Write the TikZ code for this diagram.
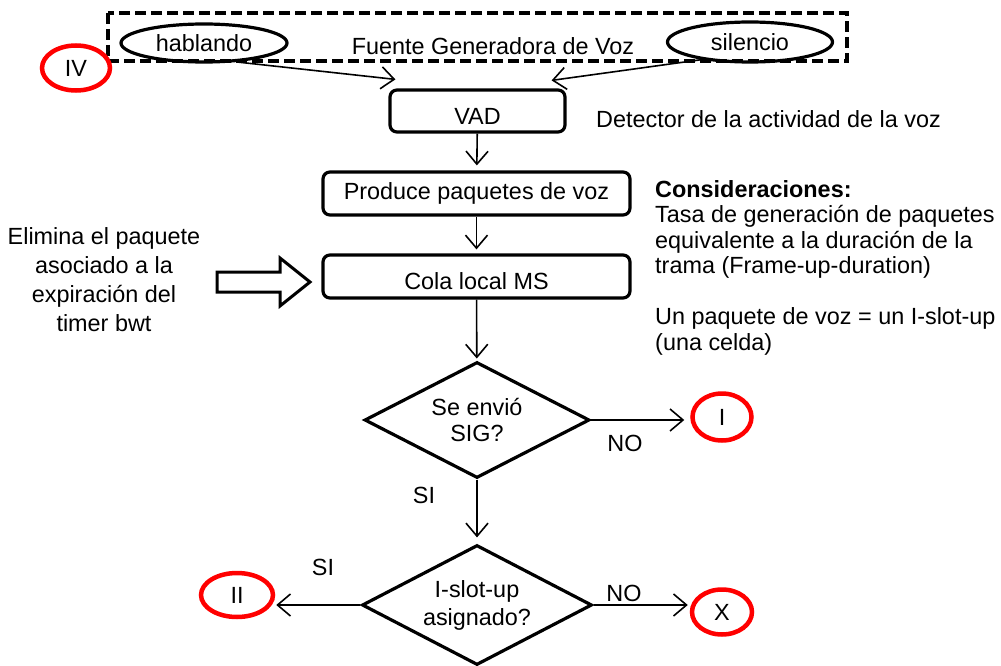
\documentclass[tikz,border=0pt]{standalone}
\usepackage{fontspec}
\setmainfont{Liberation Sans}
\usetikzlibrary{arrows.meta,shapes.geometric,calc}
\begin{document}
\begin{tikzpicture}[x=1pt,y=-1pt,
  every node/.style={font=\fontsize{23.4}{27}\selectfont, inner sep=0pt},
  box/.style={draw, rounded corners=7pt, line width=3.2pt, text height=16pt, text depth=5pt},
  lowtext/.style={text height=26.5pt, text depth=0pt},
  oval/.style={draw, ellipse, line width=3.2pt, text height=16.5pt, text depth=0pt},
  redoval/.style={draw=red, ellipse, line width=4.5pt, text height=16.5pt, text depth=0pt},
  decision/.style={draw, diamond, aspect=1.9, line width=3.2pt, align=center},
  lbl/.style={text height=16.5pt, text depth=0pt},
  arr/.style={line width=1.6pt, -{Straight Barb[length=13pt,width=22pt]}},
]
\useasboundingbox (0,0) rectangle (1001,666);
% source frame
\draw[line width=3.5pt, dash pattern=on 11pt off 5pt] (108,13) rectangle (847,61);
\node[oval, minimum width=166pt, minimum height=38pt] (hab) at (204,43) {hablando};
\node[oval, minimum width=165pt, minimum height=40pt] (sil) at (750,42) {silencio};
\node[anchor=base] (fuente) at (493,55) {Fuente Generadora de Voz};
\node[redoval, minimum width=68pt, minimum height=45pt] (iv) at (76,68) {IV};
% boxes
\node[box, lowtext, minimum width=175pt, minimum height=42pt] (vad) at (477.5,111) {VAD};
\node[anchor=base west] (det) at (596,128) {Detector de la actividad de la voz};
\node[box, minimum width=307pt, minimum height=43pt] (prod) at (476.5,193.5) {Produce paquetes de voz};
\node[box, lowtext, minimum width=307pt, minimum height=43pt] (cola) at (476.5,276.5) {Cola local MS};
% left note and block arrow
\node[align=center, font=\fontsize{23.4}{29}\selectfont] (elim) at (104,280) {Elimina el paquete\\asociado a la\\expiración del\\timer bwt};
\draw[line width=3pt, line join=miter] (217,272) -- (280,272) -- (280,258) -- (310,282) -- (280,306) -- (280,292) -- (217,292) -- cycle;
% considerations
\node[anchor=north west, align=left, font=\fontsize{23.4}{25.5}\selectfont] (cons) at (655,180)
  {\textbf{Consideraciones:}\\Tasa de generación de paquetes\\equivalente a la duración de la\\trama (Frame-up-duration)\\[25.5pt]Un paquete de voz = un I-slot-up\\(una celda)};
% decisions
\node[decision, minimum width=225pt, minimum height=116pt, font=\fontsize{23.4}{26}\selectfont] (d1) at (477,420) {Se envió\\SIG?};
\node[decision, minimum width=230pt, minimum height=120pt, font=\fontsize{23.4}{28}\selectfont] (d2) at (477,605) {I-slot-up\\asignado?};
\node[redoval, minimum width=59pt, minimum height=47pt] (i) at (722,417) {I};
\node[redoval, minimum width=72pt, minimum height=44pt] (ii) at (237,595) {II};
\node[redoval, minimum width=60pt, minimum height=45pt] (x) at (722,612) {X};
% labels
\node[lbl] (no1) at (625,443) {NO};
\node[lbl] (si1) at (424,495) {SI};
\node[lbl] (si2) at (323,567) {SI};
\node[lbl] (no2) at (624,593) {NO};
% connectors
\draw[arr] (hab.-30) -- ([shift={(7,-9)}]vad.north west);
\draw[arr] (sil.-160) -- ([shift={(-15,-8)}]vad.north east);
\draw[arr, shorten >=5pt] (vad) -- (prod);
\draw[arr, shorten >=4pt] (prod) -- (cola);
\draw[arr, shorten >=2pt] (cola) -- (d1);
\draw[arr, shorten >=6pt] (d1.south) -- (d2.north);
\draw[arr, shorten >=6pt] (d1.east) -- (d1.east -| i.west);
\draw[arr, shorten >=1pt] (d2.west) -- (d2.west -| ii.east);
\draw[arr, shorten >=2pt] (d2.east) -- (d2.east -| x.west);
\end{tikzpicture}
\end{document}
